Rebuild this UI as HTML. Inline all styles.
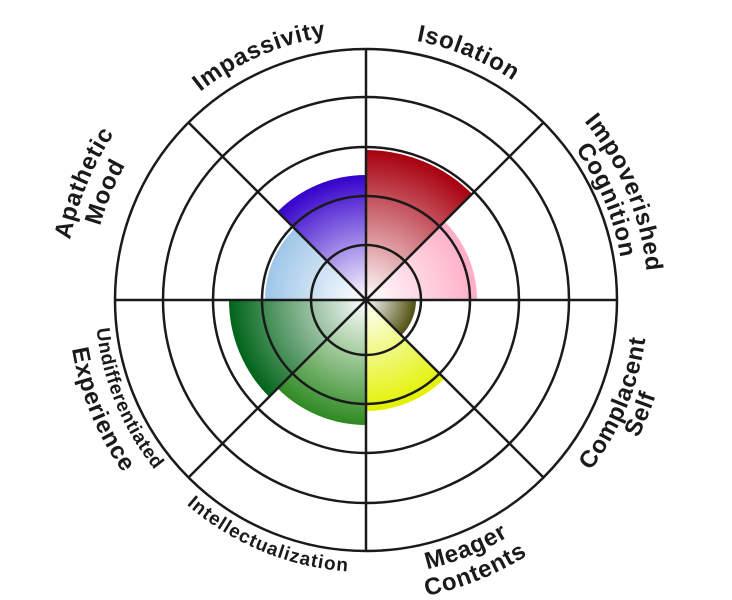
<!DOCTYPE html>
<html><head><meta charset="utf-8"><style>
html,body{margin:0;padding:0;background:#fff;}
svg{display:block;}
text{font-family:"Liberation Sans",sans-serif;font-weight:bold;fill:#1a1a1a;}
</style></head><body>
<svg id="s" width="732" height="600" viewBox="0 0 732 600" xmlns="http://www.w3.org/2000/svg">
<defs id="d"></defs>
<g id="w"></g>
<g fill="none" stroke="#1a1a1a" stroke-width="2.5">
<circle cx="366" cy="300" r="55"/>
<circle cx="366" cy="300" r="104"/>
<circle cx="366" cy="300" r="153"/>
<circle cx="366" cy="300" r="203"/>
<circle cx="366" cy="300" r="251"/>
<line x1="366" y1="49" x2="366" y2="551"/>
<line x1="115" y1="300" x2="617" y2="300"/>
<line x1="188.5" y1="122.5" x2="543.5" y2="477.5"/>
<line x1="543.5" y1="122.5" x2="188.5" y2="477.5"/>
</g>
<g id="t">
<text font-size="24" letter-spacing="0.8"><textPath href="#p1" startOffset="50%" text-anchor="middle">Isolation</textPath></text>
<text font-size="24" letter-spacing="0.8"><textPath href="#p2" startOffset="50%" text-anchor="middle">Impoverished</textPath></text>
<text font-size="24" letter-spacing="0.8"><textPath href="#p3" startOffset="50%" text-anchor="middle">Cognition</textPath></text>
<text font-size="24" letter-spacing="0.8"><textPath href="#p4" startOffset="50%" text-anchor="middle">Complacent</textPath></text>
<text font-size="24" letter-spacing="0.8"><textPath href="#p5" startOffset="50%" text-anchor="middle">Self</textPath></text>
<text font-size="24" letter-spacing="0.8"><textPath href="#p6" startOffset="50%" text-anchor="middle">Meager</textPath></text>
<text font-size="24" letter-spacing="0.8"><textPath href="#p7" startOffset="50%" text-anchor="middle">Contents</textPath></text>
<text font-size="19" letter-spacing="1"><textPath href="#p8" startOffset="50%" text-anchor="middle">Intellectualization</textPath></text>
<text font-size="19" letter-spacing="0.6"><textPath href="#p9" startOffset="50%" text-anchor="middle">Undifferentiated</textPath></text>
<text font-size="24" letter-spacing="0.8"><textPath href="#p10" startOffset="50%" text-anchor="middle">Experience</textPath></text>
<text font-size="24" letter-spacing="0.8"><textPath href="#p11" startOffset="50%" text-anchor="middle">Apathetic</textPath></text>
<text font-size="24" letter-spacing="0.8"><textPath href="#p12" startOffset="50%" text-anchor="middle">Mood</textPath></text>
<text font-size="24" letter-spacing="0.8"><textPath href="#p13" startOffset="50%" text-anchor="middle">Impassivity</textPath></text>
</g>
</svg>
<script>
var NS="http://www.w3.org/2000/svg",cx=366,cy=300;
function P(a,r){var t=a*Math.PI/180;return [cx+r*Math.sin(t),cy-r*Math.cos(t)];}
var d=document.getElementById('d'),w=document.getElementById('w');
var wedges=[[0,150,'#a8000e'],[45,111,'#ffadc6'],[90,50,'#505010'],[135,111,'#e2f200'],[180,125,'#2e8a22'],[225,137,'#006418'],[270,101,'#9ec6e8'],[315,125,'#3400cc']];
wedges.forEach(function(v,i){
 var g=document.createElementNS(NS,'radialGradient');
 g.setAttribute('id','g'+i);g.setAttribute('gradientUnits','userSpaceOnUse');
 g.setAttribute('cx',cx);g.setAttribute('cy',cy);g.setAttribute('r',v[1]);
 g.innerHTML='<stop offset="0" stop-color="#fff"/><stop offset="1" stop-color="'+v[2]+'"/>';
 d.appendChild(g);
 var a=P(v[0],v[1]),b=P(v[0]+45,v[1]);
 var p=document.createElementNS(NS,'path');
 p.setAttribute('d','M'+cx+','+cy+'L'+a[0]+','+a[1]+'A'+v[1]+','+v[1]+' 0 0 1 '+b[0]+','+b[1]+'Z');
 p.setAttribute('fill','url(#g'+i+')');w.appendChild(p);
});
var labels=[[1,22.5,264,1],[2,67.5,282,1],[3,67.5,258,1],[4,112.5,282,0],[5,112.5,305,0],[6,158,276,0],[7,158,302,0],[8,202.5,272,0],[9,247.5,271,0],[10,247.5,298,0],[11,292.5,302,1],[12,292.5,276,1],[13,336.5,266,1]];
labels.forEach(function(l){
 var r=l[2],s=l[3],a0=l[1]+180,a1=l[1];
 var A=P(a0,r),B=P(a1,r);
 var p=document.createElementNS(NS,'path');
 p.setAttribute('id','p'+l[0]);
 p.setAttribute('d','M'+A[0]+','+A[1]+'A'+r+','+r+' 0 0 '+s+' '+B[0]+','+B[1]+'A'+r+','+r+' 0 0 '+s+' '+A[0]+','+A[1]);
 p.setAttribute('fill','none');
 d.appendChild(p);
});
</script>
</body></html>
